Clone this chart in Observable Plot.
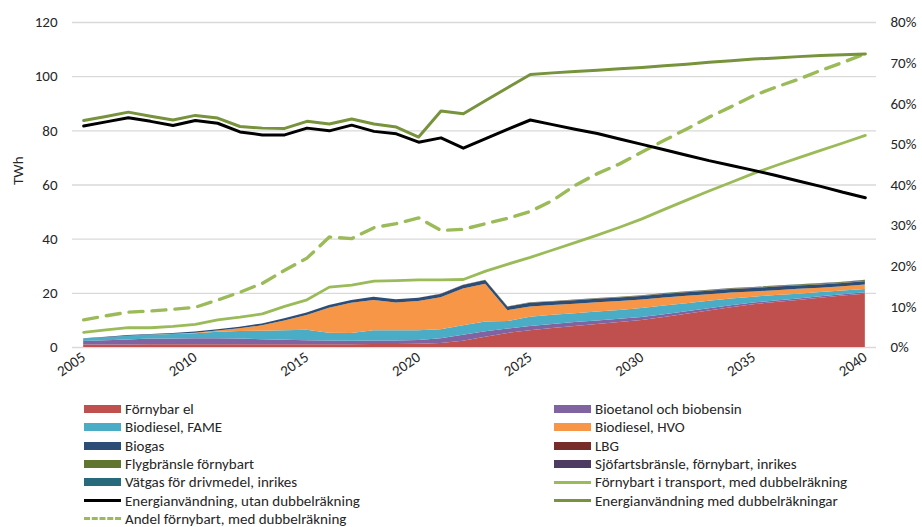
<!DOCTYPE html>
<html><head><meta charset="utf-8">
<script src="https://cdn.jsdelivr.net/npm/d3@7"></script>
<script src="https://cdn.jsdelivr.net/npm/@observablehq/plot@0.6"></script>
<style>
body{margin:0;background:#fff;}
#wrap{position:relative;width:922px;height:527px;font-family:Carlito,"Liberation Sans Narrow","Open Sans",sans-serif;color:#262626;}
#legend{position:absolute;left:0;top:0;width:922px;height:527px;pointer-events:none;}
.item{position:absolute;font-size:15px;line-height:18px;white-space:nowrap;display:flex;align-items:center;}
.sw{display:inline-block;width:37px;height:8px;margin-right:4px;}
.ln{display:inline-block;width:37px;height:0;margin-right:4px;}
</style></head><body><div id="wrap"><div id="chart"></div><div id="legend"></div></div>
<script>
const years = [2005,2006,2007,2008,2009,2010,2011,2012,2013,2014,2015,2016,2017,2018,2019,2020,2021,2022,2023,2024,2025,2026,2027,2028,2029,2030,2031,2032,2033,2034,2035,2036,2037,2038,2039,2040];
const xTicks = [2005,2010,2015,2020,2025,2030,2035,2040];
const yTicks = [0,20,40,60,80,100,120];
const pctTicks = [0,10,20,30,40,50,60,70,80];

// Stacked series (TWh)
const fornybarEl = [0.9,0.9,0.9,1.0,1.0,1.0,1.0,1.0,1.0,1.0,1.0,1.0,1.0,1.1,1.1,1.2,1.5,2.3,3.8,5.2,6.2,7.0,7.8,8.5,9.2,10.0,11.1,12.3,13.5,14.7,15.8,16.6,17.4,18.2,19.0,19.7];
const bioetanol = [1.3,1.6,1.9,2.1,2.1,2.2,2.2,2.1,1.9,1.7,1.5,1.4,1.3,1.3,1.3,1.4,1.7,2.2,2.0,1.6,1.6,1.5,1.4,1.3,1.2,1.1,1.0,0.9,0.8,0.7,0.6,0.6,0.5,0.5,0.5,0.5];
const fame = [0.9,1.1,1.4,1.5,1.7,1.9,2.4,2.8,3.1,3.5,3.9,2.9,2.9,3.8,3.8,3.6,3.4,3.5,3.6,2.8,3.4,3.4,3.3,3.3,3.3,3.3,3.2,3.0,2.8,2.5,2.2,2.0,1.8,1.6,1.4,1.2];
const hvo = [0,0,0,0,0.1,0.2,0.5,1.0,2.0,3.6,5.4,9.2,11.1,11.2,10.2,10.8,11.8,13.6,14.0,4.0,3.8,3.6,3.5,3.4,3.3,3.1,3.0,2.7,2.4,2.2,1.9,1.8,1.8,1.6,1.5,1.7];
const biogas = [0.1,0.15,0.2,0.2,0.3,0.4,0.5,0.6,0.7,0.8,0.9,1.0,1.1,1.2,1.2,1.2,1.2,1.3,1.3,1.3,1.3,1.3,1.3,1.3,1.3,1.3,1.3,1.3,1.3,1.3,1.3,1.3,1.2,1.2,1.2,1.2];
const lbg = [0,0,0,0,0,0,0,0,0,0,0,0,0,0,0,0.02,0.03,0.04,0.05,0.05,0.06,0.06,0.07,0.07,0.08,0.08,0.08,0.09,0.09,0.09,0.1,0.1,0.1,0.1,0.1,0.1];
const flyg = [0,0,0,0,0,0,0,0,0,0,0,0,0,0,0,0,0.02,0.03,0.05,0.07,0.1,0.1,0.12,0.13,0.14,0.15,0.16,0.17,0.18,0.19,0.2,0.22,0.24,0.26,0.28,0.3];
const sjofart = [0,0,0,0,0,0,0,0,0,0,0,0,0,0,0,0,0,0,0,0,0.02,0.02,0.03,0.03,0.04,0.05,0.05,0.06,0.06,0.07,0.07,0.08,0.08,0.09,0.09,0.1];
const vatgas = [0,0,0,0,0,0,0,0,0,0,0,0,0,0,0,0,0,0,0,0,0.01,0.01,0.01,0.02,0.02,0.02,0.02,0.03,0.03,0.03,0.03,0.04,0.04,0.04,0.05,0.05];

// Lines
const energiUtan = [81.8,83.3,84.8,83.5,82.0,83.8,82.8,79.6,78.5,78.5,81.0,80.0,82.1,79.8,78.9,75.8,77.4,73.6,77.1,80.6,84.0,82.3,80.6,79.0,77.0,75.0,73.0,71.0,69.0,67.2,65.4,63.5,61.5,59.5,57.3,55.3];
const energiMed = [83.8,85.3,86.9,85.4,84.0,85.7,84.7,81.6,81.0,80.9,83.5,82.5,84.4,82.5,81.4,77.7,87.3,86.3,91.2,96.0,100.8,101.4,101.9,102.4,102.9,103.4,104.0,104.6,105.3,105.9,106.5,106.9,107.4,107.8,108.1,108.4];
const fornybartTransport = [5.6,6.5,7.3,7.3,7.8,8.5,10.2,11.2,12.4,15.2,17.6,22.3,23.0,24.5,24.7,25.0,25.0,25.1,28.2,30.8,33.3,36.0,38.7,41.5,44.4,47.5,51.0,54.4,57.8,61.0,64.3,67.2,70.0,72.8,75.5,78.3];
const andelPct = [6.8,7.8,8.7,9.0,9.4,9.9,11.7,13.6,15.8,19.0,22.0,27.2,26.8,29.5,30.5,31.9,28.8,29.1,30.5,31.8,33.5,36.2,39.9,42.8,45.2,48.1,51.0,53.8,56.7,59.3,62.0,64.1,66.0,68.2,70.2,72.3];

const stackNames = ["Förnybar el","Bioetanol och biobensin","Biodiesel, FAME","Biodiesel, HVO","Biogas","LBG","Flygbränsle förnybart","Sjöfartsbränsle, förnybart, inrikes","Vätgas för drivmedel, inrikes"];
const stackValues = [fornybarEl,bioetanol,fame,hvo,biogas,lbg,flyg,sjofart,vatgas];
const stackColors = ["#c0504d","#8064a2","#4bacc6","#f79646","#2c4d75","#772c2a","#5f7530","#4d3b62","#276a7c"];

const stackData = [];
stackNames.forEach((n,k)=>years.forEach((yr,i)=>stackData.push({year:yr,key:n,value:stackValues[k][i]})));
const rows = arr => years.map((yr,i)=>({year:yr,value:arr[i]}));
const pctToLeft = 120/80; // right axis 0–80% aligned to left 0–120

const font = 'Carlito,"Liberation Sans Narrow","Open Sans",sans-serif';
const chart = Plot.plot({
  width: 922, height: 390,
  marginLeft: 72, marginRight: 46, marginTop: 22, marginBottom: 43,
  x: {domain: [2004.5, 2040.5]},
  y: {domain: [0, 120]},
  color: {domain: stackNames, range: stackColors},
  style: {fontFamily: font, fontSize: "15px", color: "#262626", background: "#fff"},
  marks: [
    Plot.ruleY(yTicks, {stroke: "#d9d9d9", strokeWidth: 1.3}),
    Plot.areaY(stackData, {x: "year", y: "value", fill: "key", order: stackNames}),
    Plot.lineY(rows(fornybartTransport), {x: "year", y: "value", stroke: "#9bbb59", strokeWidth: 2.8}),
    Plot.lineY(rows(andelPct), {x: "year", y: d => d.value * pctToLeft, stroke: "#9bbb59", strokeWidth: 3.4, strokeDasharray: "14,9"}),
    Plot.lineY(rows(energiMed), {x: "year", y: "value", stroke: "#77933c", strokeWidth: 3}),
    Plot.lineY(rows(energiUtan), {x: "year", y: "value", stroke: "#000", strokeWidth: 3}),
    Plot.axisY({ticks: yTicks, tickSize: 0, tickPadding: 15, label: null}),
    Plot.axisY(pctTicks.map(p => p * pctToLeft), {anchor: "right", tickSize: 0, tickPadding: 14, tickFormat: d => Math.round(d / pctToLeft) + "%", label: null}),
    Plot.axisX({ticks: xTicks, tickFormat: d => String(d), tickSize: 0, tickPadding: 8, tickRotate: -35, textAnchor: "end", label: null}),
    Plot.text(["TWh"], {frameAnchor: "left", text: d => d, rotate: -90, dx: -54, fontSize: 15})
  ]
});
document.getElementById("chart").appendChild(chart);

// Legend
const legendLeft = [
  {name:"Förnybar el", type:"rect", color:"#c0504d"},
  {name:"Biodiesel, FAME", type:"rect", color:"#4bacc6"},
  {name:"Biogas", type:"rect", color:"#2c4d75"},
  {name:"Flygbränsle förnybart", type:"rect", color:"#5f7530"},
  {name:"Vätgas för drivmedel, inrikes", type:"rect", color:"#276a7c"},
  {name:"Energianvändning, utan dubbelräkning", type:"line", color:"#000"},
  {name:"Andel förnybart, med dubbelräkning", type:"dash", color:"#9bbb59"}
];
const legendRight = [
  {name:"Bioetanol och biobensin", type:"rect", color:"#8064a2"},
  {name:"Biodiesel, HVO", type:"rect", color:"#f79646"},
  {name:"LBG", type:"rect", color:"#772c2a"},
  {name:"Sjöfartsbränsle, förnybart, inrikes", type:"rect", color:"#4d3b62"},
  {name:"Förnybart i transport, med dubbelräkning", type:"line", color:"#9bbb59"},
  {name:"Energianvändning med dubbelräkningar", type:"line", color:"#77933c"}
];
const leg = d3.select("#legend");
function addCol(items, x) {
  items.forEach((it, i) => {
    const d = leg.append("div").attr("class","item").style("left", x + "px").style("top", (400 + i * 18.3) + "px");
    if (it.type === "rect") d.append("span").attr("class","sw").style("background", it.color);
    else if (it.type === "line") d.append("span").attr("class","ln").style("border-top", "3px solid " + it.color);
    else d.append("span").attr("class","ln").style("border-top", "3px dashed " + it.color);
    d.append("span").text(it.name);
  });
}
addCol(legendLeft, 84);
addCol(legendRight, 554);
</script></body></html>
